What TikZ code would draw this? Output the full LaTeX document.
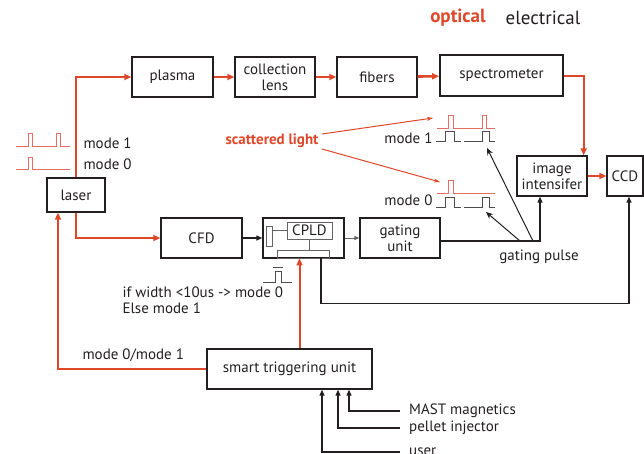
\documentclass[tikz,border=0pt]{standalone}
\usepackage{fontspec}
\setmainfont{PT Sans}
\usetikzlibrary{arrows.meta,positioning,calc}
\definecolor{optred}{RGB}{222,72,42}
\definecolor{pulsered}{RGB}{226,110,100}
\definecolor{ink}{RGB}{35,31,32}

\begin{document}
\begin{tikzpicture}[x=1pt,y=-1pt,
  every node/.style={font=\fontsize{15}{17}\selectfont, text=ink},
  blk/.style={draw=ink, line width=1.3pt, minimum height=40pt, align=center, inner sep=1pt},
  opt/.style={draw=optred, line width=2pt},
  optarr/.style={opt, -{Triangle[length=7pt,width=6pt]}},
  ele/.style={draw=ink, line width=1.2pt},
  elearr/.style={ele, -{Triangle[length=6pt,width=5pt]}},
  ptr/.style={draw=ink, line width=1pt, -{Stealth[length=7pt,width=6pt]}},
  wave/.style={draw=pulsered, line width=0.9pt},
  gwave/.style={draw=ink!80, line width=0.9pt}]
  \useasboundingbox (0,0) rectangle (644,453);
  % legend
  \node[font=\fontsize{19}{21}\selectfont\bfseries, text=optred] (lopt) at (458,18) {optical};
  \node[font=\fontsize{19}{21}\selectfont] (lele) at (543,18) {electrical};
  % optical chain
  \node[blk, minimum width=81pt] (plasma) at (172.5,77) {plasma};
  \node[blk, minimum width=80pt, text width=76pt, font=\fontsize{15}{16}\selectfont] (lens) at (275,77) {collection\\lens};
  \node[blk, minimum width=80pt] (fibers) at (377,77) {fibers};
  \node[blk, minimum width=123pt, minimum height=41pt, line width=1.7pt] (spec) at (501.5,75.5) {spectrometer};
  \node[blk, minimum width=70pt, text width=66pt, font=\fontsize{15}{16}\selectfont] (image) at (552,176) {image\\intensifer};
  \node[blk, minimum width=36pt] (ccd) at (625,176) {CCD};
  \node[blk, minimum width=58pt, minimum height=34pt] (laser) at (76,195) {laser};
  % electrical chain
  \node[blk, minimum width=81pt] (cfd) at (201.5,238) {CFD};
  \node[blk, minimum width=81pt] (cpldbox) at (303.5,238) {};
  \node[draw=ink!70, line width=0.8pt, minimum width=45pt, minimum height=17pt, inner sep=0pt] (cpld) at (309.5,230.5) {CPLD};
  \node[draw=ink!70, line width=0.8pt, minimum width=6pt, minimum height=20pt, inner sep=0pt] (inport) at (269,236) {};
  \node[draw=ink!70, line width=0.8pt, minimum width=52pt, minimum height=8pt, inner sep=0pt] (outport) at (303,254) {};
  \node[blk, minimum width=80pt, text width=76pt, font=\fontsize{15}{16}\selectfont] (gating) at (400,238) {gating\\unit};
  \node[blk, minimum width=165pt] (smart) at (289.5,369) {smart triggering unit};
  % optical connectors
  \draw[optarr] (laser.north) |- (plasma.west);
  \draw[optarr] (laser.south) |- (cfd.west);
  \draw[optarr] (plasma) -- (lens);
  \draw[optarr] (lens) -- (fibers);
  \draw[optarr, line width=2.6pt] (fibers) -- (spec);
  \draw[optarr] (spec.east) -| ([xshift=-4pt]image.north east);
  \draw[optarr, line width=2.6pt] (image) -- (ccd);
  \draw[optarr] ([xshift=10pt]smart.north) -- ([xshift=10pt]smart.north |- outport.south);
  \draw[optarr] (smart.west) -| ([xshift=-18pt]laser.south);
  \node[anchor=west] (modesel) at (79,355) {mode 0/mode 1};
  % electrical connectors
  \draw[elearr] (cfd) -- (cpldbox);
  \draw[draw=ink!70, line width=0.8pt] (inport.east |- cpld.west) -- (cpld.west);
  \draw[draw=ink!70, line width=0.8pt] (cpld.south) -- (cpld.south |- outport.north);
  \draw[draw=ink!70, line width=0.9pt, -{Triangle[length=5pt,width=4pt]}] (cpldbox) -- (gating);
  \draw[elearr] ([yshift=-3pt]gating.east) -| ([xshift=-12pt]image.south);
  \draw[elearr] ([xshift=18pt]outport.south) -- ++(0,45) -| ([xshift=4pt]ccd.south);
  % smart triggering inputs
  \foreach \y/\dx/\lab/\nm in {411/59.5/MAST magnetics/mast, 428/48.5/pellet injector/pellet, 452/32.5/user/usr} {
    \node[anchor=west, inner xsep=9pt] (\nm) at (400,\y) {\lab};
    \draw[elearr] (\nm.west) -| ([xshift=\dx pt]smart.south);
  }
  % rule for the mode
  \node[anchor=west, align=left, font=\fontsize{15}{15.5}\selectfont] (rule) at (119,300) {if width <10us -> mode 0\\Else mode 1};
  \draw[gwave] (263,282) -- (275,282) -- (275,271) -- (281,271) -- (281,282) -- (292,282);
  \draw[gwave] (273,267) -- (283,267);
  % laser pulses
  \draw[wave] (16,146) -- (28,146) -- (28,133) -- (32,133) -- (32,146) -- (56,146) -- (56,133) -- (60,133) -- (60,146) -- (70,146);
  \draw[wave] (16,169) -- (28,169) -- (28,157) -- (32,157) -- (32,169) -- (70,169);
  \node[anchor=west] (lm1) at (80,143) {mode 1};
  \node[anchor=west] (lm0) at (80,164) {mode 0};
  % scattered light and gate
  \node[font=\fontsize{15}{17}\selectfont\bfseries, text=optred] (scat) at (272,141) {scattered light};
  \draw[wave] (437,128) -- (448,128) -- (448,115) -- (453,115) -- (453,128) -- (482,128) -- (482,115) -- (486,115) -- (486,128) -- (495,128);
  \draw[gwave] (436,141) -- (445,141) -- (445,131) -- (454,131) -- (454,141) -- (461,141);
  \draw[gwave] (464,141) -- (482,141) -- (482,131) -- (489,131) -- (489,141) -- (495,141);
  \draw[wave] (437,193) -- (448,193) -- (448,180) -- (453,180) -- (453,193) -- (495,193);
  \draw[gwave] (436,207) -- (445,207) -- (445,197) -- (454,197) -- (454,207) -- (461,207);
  \draw[gwave] (464,207) -- (482,207) -- (482,197) -- (489,197) -- (489,207) -- (495,207);
  \node[anchor=east] (rm1) at (436,138) {mode 1};
  \node[anchor=east] (rm0) at (436,200) {mode 0};
  \coordinate (hit1) at (433,118);
  \coordinate (hit0) at (440,182);
  \draw[draw=optred, line width=1pt, -{Stealth[length=6pt,width=4pt]}] ([yshift=7pt]scat.east) -- (hit1);
  \draw[draw=optred, line width=1pt, -{Stealth[length=6pt,width=4pt]}] ([yshift=-8pt]scat.east) -- (hit0);
  \coordinate (gp0) at (520,241);
  \coordinate (gp1) at (533,241);
  \coordinate (gw0) at (486,212);
  \coordinate (gw1) at (487,148);
  \draw[ptr] (gp0) -- (gw0);
  \draw[ptr] (gp1) -- (gw1);
  \node (gpulse) at (539,257) {gating pulse};
\end{tikzpicture}
\end{document}
